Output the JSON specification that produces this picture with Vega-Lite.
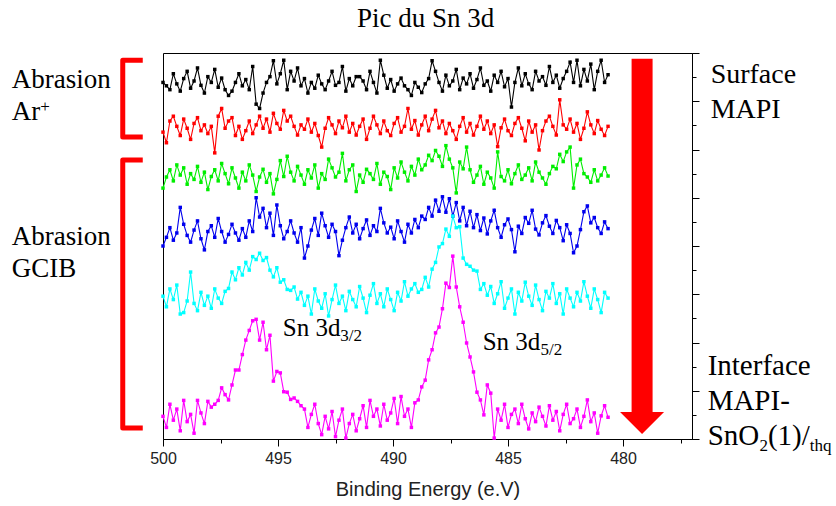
{
"$schema": "https://vega.github.io/schema/vega-lite/v6.json",
"width": 529,
"height": 386,
"autosize": {"type": "none"},
"padding": {"left": 163, "top": 53, "right": 144, "bottom": 67},
"background": "white",
"config": {"view": {"stroke": "black", "strokeWidth": 1}, "axis": {"domainColor": "black", "tickColor": "black", "grid": false, "labelFont": "Liberation Sans", "titleFont": "Liberation Sans"}},
"datasets": {
"spec": [
{"E":500,"a":7.39,"b":6.36,"c":5.20,"d":4.00,"e":2.96,"f":0.47},
{"E":499.85,"a":7.32,"b":6.14,"c":5.43,"d":4.18,"e":2.74,"f":0.24},
{"E":499.7,"a":7.24,"b":6.59,"c":5.58,"d":4.38,"e":3.11,"f":0.72},
{"E":499.55,"a":7.57,"b":6.69,"c":5.35,"d":4.12,"e":2.89,"f":0.39},
{"E":499.4,"a":7.36,"b":6.48,"c":5.68,"d":4.27,"e":3.19,"f":0.62},
{"E":499.25,"a":7.21,"b":6.29,"c":5.47,"d":4.80,"e":2.59,"f":0.17},
{"E":499.1,"a":7.47,"b":6.63,"c":5.62,"d":4.45,"e":2.62,"f":0.80},
{"E":498.95,"a":7.62,"b":6.44,"c":5.28,"d":4.22,"e":2.86,"f":0.36},
{"E":498.8,"a":7.27,"b":6.21,"c":5.50,"d":4.08,"e":3.46,"f":0.51},
{"E":498.65,"a":7.42,"b":6.54,"c":5.38,"d":4.33,"e":2.81,"f":0.12},
{"E":498.5,"a":7.69,"b":6.66,"c":5.65,"d":4.52,"e":2.66,"f":0.80},
{"E":498.35,"a":7.33,"b":6.39,"c":5.32,"d":4.15,"e":3.04,"f":0.54},
{"E":498.2,"a":7.17,"b":6.51,"c":5.53,"d":3.92,"e":2.77,"f":0.32},
{"E":498.05,"a":7.51,"b":6.33,"c":5.17,"d":4.30,"e":2.96,"f":0.78},
{"E":497.9,"a":7.39,"b":6.48,"c":5.44,"d":4.42,"e":2.71,"f":0.66},
{"E":497.75,"a":7.66,"b":5.93,"c":5.58,"d":4.18,"e":3.11,"f":0.72},
{"E":497.6,"a":7.29,"b":6.69,"c":5.35,"d":4.57,"e":2.92,"f":0.80},
{"E":497.45,"a":7.48,"b":6.85,"c":5.71,"d":4.30,"e":2.81,"f":1.06},
{"E":497.3,"a":7.24,"b":6.44,"c":5.50,"d":4.08,"e":3.06,"f":0.92},
{"E":497.15,"a":7.12,"b":6.59,"c":5.29,"d":4.24,"e":3.12,"f":0.81},
{"E":497,"a":7.21,"b":6.66,"c":5.62,"d":4.45,"e":3.46,"f":1.12},
{"E":496.85,"a":7.39,"b":6.29,"c":5.41,"d":4.27,"e":3.30,"f":1.43},
{"E":496.7,"a":7.57,"b":6.48,"c":5.20,"d":4.12,"e":3.55,"f":1.43},
{"E":496.55,"a":7.32,"b":6.21,"c":5.53,"d":4.36,"e":3.40,"f":1.75},
{"E":496.4,"a":7.45,"b":6.39,"c":5.35,"d":4.18,"e":3.66,"f":2.05},
{"E":496.25,"a":7.24,"b":6.59,"c":5.68,"d":4.52,"e":3.50,"f":2.25},
{"E":496.1,"a":7.72,"b":6.33,"c":5.47,"d":4.30,"e":3.78,"f":2.45},
{"E":495.95,"a":6.94,"b":6.51,"c":5.13,"d":5.00,"e":3.72,"f":2.48},
{"E":495.8,"a":6.85,"b":6.69,"c":5.43,"d":4.60,"e":3.85,"f":2.05},
{"E":495.65,"a":7.17,"b":6.44,"c":5.59,"d":4.78,"e":3.70,"f":2.42},
{"E":495.5,"a":7.39,"b":6.63,"c":5.32,"d":4.38,"e":3.76,"f":1.85},
{"E":495.35,"a":7.51,"b":6.36,"c":5.50,"d":4.68,"e":3.50,"f":2.15},
{"E":495.2,"a":7.84,"b":6.75,"c":5.08,"d":4.22,"e":3.36,"f":1.20},
{"E":495.05,"a":7.36,"b":6.54,"c":5.38,"d":4.85,"e":3.55,"f":1.40},
{"E":494.9,"a":7.57,"b":6.42,"c":5.77,"d":4.42,"e":3.25,"f":1.37},
{"E":494.75,"a":7.85,"b":6.81,"c":5.44,"d":4.15,"e":3.30,"f":0.98},
{"E":494.6,"a":7.24,"b":6.59,"c":5.86,"d":4.30,"e":3.10,"f":0.97},
{"E":494.45,"a":7.62,"b":6.69,"c":5.53,"d":4.52,"e":3.08,"f":0.82},
{"E":494.3,"a":7.42,"b":6.48,"c":5.35,"d":4.27,"e":3.15,"f":0.85},
{"E":494.15,"a":7.69,"b":6.30,"c":5.65,"d":4.08,"e":2.90,"f":0.78},
{"E":494,"a":7.32,"b":6.51,"c":5.47,"d":4.38,"e":3.04,"f":0.69},
{"E":493.85,"a":7.47,"b":6.42,"c":5.28,"d":3.75,"e":2.77,"f":0.62},
{"E":493.7,"a":7.17,"b":6.63,"c":5.58,"d":4.00,"e":2.96,"f":0.24},
{"E":493.55,"a":7.39,"b":6.36,"c":5.41,"d":4.33,"e":2.59,"f":0.51},
{"E":493.4,"a":7.27,"b":6.54,"c":5.68,"d":4.57,"e":3.11,"f":0.72},
{"E":493.25,"a":7.54,"b":6.29,"c":5.20,"d":4.22,"e":2.86,"f":0.32},
{"E":493.1,"a":7.36,"b":6.05,"c":5.50,"d":4.68,"e":2.71,"f":0.09},
{"E":492.95,"a":7.24,"b":6.44,"c":5.38,"d":4.42,"e":3.01,"f":0.47},
{"E":492.8,"a":7.42,"b":6.66,"c":5.80,"d":4.18,"e":2.55,"f":0.21},
{"E":492.65,"a":7.62,"b":6.51,"c":5.62,"d":4.45,"e":2.89,"f":0.57},
{"E":492.5,"a":7.33,"b":6.33,"c":5.43,"d":4.30,"e":3.19,"f":0.05},
{"E":492.35,"a":7.39,"b":6.59,"c":5.53,"d":3.80,"e":2.81,"f":0.39},
{"E":492.2,"a":7.72,"b":6.45,"c":5.92,"d":4.12,"e":2.96,"f":0.62},
{"E":492.05,"a":7.21,"b":6.69,"c":5.35,"d":4.38,"e":2.66,"f":0.02},
{"E":491.9,"a":7.47,"b":6.36,"c":5.58,"d":4.60,"e":3.06,"f":0.32},
{"E":491.75,"a":7.32,"b":6.54,"c":5.68,"d":4.27,"e":2.89,"f":0.51},
{"E":491.6,"a":7.51,"b":6.30,"c":5.13,"d":4.45,"e":2.74,"f":0.17},
{"E":491.45,"a":7.51,"b":6.48,"c":5.47,"d":4.15,"e":3.16,"f":0.42},
{"E":491.3,"a":7.42,"b":6.63,"c":5.32,"d":4.36,"e":2.92,"f":0.69},
{"E":491.15,"a":7.24,"b":6.21,"c":5.59,"d":4.54,"e":2.62,"f":0.24},
{"E":491,"a":7.62,"b":6.44,"c":5.50,"d":4.22,"e":2.98,"f":0.80},
{"E":490.85,"a":7.39,"b":6.69,"c":5.38,"d":4.42,"e":3.22,"f":0.47},
{"E":490.7,"a":7.17,"b":6.51,"c":5.71,"d":4.30,"e":2.81,"f":0.62},
{"E":490.55,"a":7.85,"b":6.33,"c":5.28,"d":4.78,"e":3.01,"f":0.27},
{"E":490.4,"a":7.54,"b":6.59,"c":5.53,"d":4.48,"e":2.74,"f":0.72},
{"E":490.25,"a":7.27,"b":6.39,"c":5.44,"d":4.27,"e":3.11,"f":0.39},
{"E":490.1,"a":7.45,"b":6.29,"c":5.17,"d":4.39,"e":2.89,"f":0.54},
{"E":489.95,"a":7.21,"b":6.54,"c":5.62,"d":4.15,"e":2.66,"f":0.84},
{"E":489.8,"a":7.36,"b":6.66,"c":5.41,"d":4.52,"e":3.04,"f":0.32},
{"E":489.65,"a":7.48,"b":6.36,"c":5.74,"d":4.30,"e":2.86,"f":0.88},
{"E":489.5,"a":7.32,"b":6.48,"c":5.53,"d":4.08,"e":3.26,"f":0.47},
{"E":489.35,"a":7.24,"b":6.85,"c":5.35,"d":4.45,"e":2.96,"f":0.62},
{"E":489.2,"a":7.12,"b":6.42,"c":5.65,"d":4.27,"e":3.11,"f":0.24},
{"E":489.05,"a":7.39,"b":6.60,"c":5.47,"d":4.55,"e":3.22,"f":0.75},
{"E":488.9,"a":7.29,"b":6.30,"c":5.80,"d":4.38,"e":3.04,"f":0.81},
{"E":488.75,"a":7.18,"b":6.51,"c":5.58,"d":4.62,"e":3.10,"f":1.08},
{"E":488.6,"a":7.36,"b":6.69,"c":5.68,"d":4.55,"e":3.35,"f":1.22},
{"E":488.45,"a":7.47,"b":6.39,"c":5.88,"d":4.80,"e":3.15,"f":1.64},
{"E":488.3,"a":7.84,"b":6.63,"c":5.77,"d":4.62,"e":3.52,"f":1.85},
{"E":488.15,"a":7.62,"b":6.81,"c":5.98,"d":4.95,"e":3.66,"f":2.20},
{"E":488,"a":7.39,"b":6.45,"c":5.86,"d":4.72,"e":3.98,"f":2.32},
{"E":487.85,"a":7.21,"b":6.59,"c":5.65,"d":5.02,"e":4.05,"f":2.70},
{"E":487.7,"a":7.54,"b":6.33,"c":6.08,"d":4.70,"e":4.35,"f":3.23},
{"E":487.55,"a":7.32,"b":6.54,"c":5.80,"d":4.98,"e":4.20,"f":3.14},
{"E":487.4,"a":7.42,"b":6.39,"c":5.62,"d":4.62,"e":4.62,"f":3.79},
{"E":487.25,"a":7.66,"b":6.21,"c":5.10,"d":4.90,"e":4.38,"f":3.15},
{"E":487.1,"a":7.24,"b":6.48,"c":5.74,"d":4.52,"e":4.40,"f":2.74},
{"E":486.95,"a":7.48,"b":6.66,"c":5.60,"d":4.80,"e":3.75,"f":2.42},
{"E":486.8,"a":7.36,"b":6.36,"c":6.05,"d":4.42,"e":3.62,"f":1.99},
{"E":486.65,"a":7.57,"b":6.54,"c":5.58,"d":4.72,"e":3.58,"f":1.70},
{"E":486.5,"a":7.27,"b":6.30,"c":5.32,"d":4.38,"e":3.50,"f":1.39},
{"E":486.35,"a":7.45,"b":6.48,"c":5.47,"d":4.65,"e":3.48,"f":0.97},
{"E":486.2,"a":7.69,"b":6.69,"c":5.65,"d":4.32,"e":3.10,"f":0.81},
{"E":486.05,"a":7.33,"b":6.42,"c":5.28,"d":4.58,"e":3.22,"f":0.50},
{"E":485.9,"a":7.42,"b":6.59,"c":5.53,"d":4.25,"e":2.98,"f":1.12},
{"E":485.75,"a":7.21,"b":6.33,"c":5.41,"d":4.52,"e":3.16,"f":0.95},
{"E":485.6,"a":7.54,"b":6.51,"c":5.20,"d":4.74,"e":2.81,"f":0.02},
{"E":485.45,"a":7.39,"b":6.06,"c":5.95,"d":4.38,"e":3.01,"f":0.62},
{"E":485.3,"a":7.62,"b":6.45,"c":5.44,"d":4.18,"e":3.26,"f":0.39},
{"E":485.15,"a":7.30,"b":6.63,"c":5.35,"d":4.44,"e":2.71,"f":0.72},
{"E":485,"a":7.47,"b":6.39,"c":5.58,"d":4.56,"e":2.92,"f":0.24},
{"E":484.85,"a":6.88,"b":6.29,"c":5.29,"d":4.34,"e":3.11,"f":0.51},
{"E":484.7,"a":7.39,"b":6.54,"c":5.50,"d":3.88,"e":2.59,"f":0.62},
{"E":484.55,"a":7.69,"b":6.66,"c":5.68,"d":4.41,"e":3.04,"f":0.32},
{"E":484.4,"a":7.32,"b":6.44,"c":5.38,"d":4.26,"e":2.86,"f":0.72},
{"E":484.25,"a":7.57,"b":6.18,"c":5.47,"d":4.59,"e":3.25,"f":0.42},
{"E":484.1,"a":7.36,"b":6.59,"c":5.62,"d":4.47,"e":2.96,"f":0.21},
{"E":483.95,"a":7.24,"b":6.36,"c":5.35,"d":4.74,"e":2.77,"f":0.54},
{"E":483.8,"a":7.62,"b":6.51,"c":5.74,"d":4.35,"e":3.19,"f":0.36},
{"E":483.65,"a":7.42,"b":5.99,"c":5.53,"d":4.23,"e":2.89,"f":0.66},
{"E":483.5,"a":7.51,"b":6.39,"c":5.41,"d":4.48,"e":2.66,"f":0.47},
{"E":483.35,"a":7.33,"b":6.59,"c":5.28,"d":4.63,"e":3.06,"f":0.27},
{"E":483.2,"a":7.72,"b":6.69,"c":5.50,"d":4.41,"e":2.92,"f":0.69},
{"E":483.05,"a":7.39,"b":6.48,"c":5.65,"d":4.26,"e":3.22,"f":0.39},
{"E":482.9,"a":7.54,"b":6.30,"c":5.60,"d":4.53,"e":2.81,"f":0.57},
{"E":482.75,"a":7.27,"b":7.03,"c":5.90,"d":4.38,"e":3.01,"f":0.17},
{"E":482.6,"a":7.47,"b":6.51,"c":5.75,"d":4.11,"e":2.59,"f":0.51},
{"E":482.45,"a":7.62,"b":6.42,"c":5.95,"d":4.44,"e":3.11,"f":0.72},
{"E":482.3,"a":7.81,"b":6.63,"c":6.05,"d":4.26,"e":2.92,"f":0.32},
{"E":482.15,"a":7.39,"b":6.36,"c":5.20,"d":3.86,"e":2.74,"f":0.42},
{"E":482,"a":7.85,"b":6.54,"c":5.68,"d":4.00,"e":3.04,"f":0.62},
{"E":481.85,"a":7.32,"b":6.21,"c":5.80,"d":4.34,"e":2.86,"f":0.24},
{"E":481.7,"a":7.66,"b":6.44,"c":5.50,"d":4.71,"e":3.26,"f":0.47},
{"E":481.55,"a":7.42,"b":6.78,"c":5.43,"d":4.83,"e":2.96,"f":0.81},
{"E":481.4,"a":7.77,"b":6.51,"c":5.32,"d":4.48,"e":2.71,"f":0.36},
{"E":481.25,"a":7.24,"b":6.33,"c":5.58,"d":4.59,"e":3.11,"f":0.54},
{"E":481.1,"a":7.62,"b":6.60,"c":5.35,"d":4.38,"e":2.89,"f":0.12},
{"E":480.95,"a":7.85,"b":6.42,"c":5.47,"d":4.26,"e":2.62,"f":0.48},
{"E":480.8,"a":7.39,"b":6.29,"c":5.62,"d":4.50,"e":3.04,"f":0.69},
{"E":480.65,"a":7.55,"b":6.48,"c":5.45,"d":4.36,"e":2.92,"f":0.45}
],
"brackets": [
{"id":"ar","o":1,"E":500.88,"v":7.85},
{"id":"ar","o":2,"E":501.75,"v":7.85},
{"id":"ar","o":3,"E":501.75,"v":6.26},
{"id":"ar","o":4,"E":500.88,"v":6.26},
{"id":"gcib","o":1,"E":500.88,"v":5.78},
{"id":"gcib","o":2,"E":501.75,"v":5.78},
{"id":"gcib","o":3,"E":501.75,"v":0.23},
{"id":"gcib","o":4,"E":500.88,"v":0.23}
],
"arrow": [{"E":479.17,"v":7.88,"v2":0.56}],
"head": [{"E":479.17,"v":0.33}],
"ttl": [{"t":"Pic du Sn 3d","E":488.58,"v":8.54}],
"labelsL": [
{"t":"Abrasion","E":506.58,"v":7.27},
{"t":"Ar","E":506.58,"v":6.61},
{"t":"Abrasion","E":506.58,"v":4.02},
{"t":"GCIB","E":506.58,"v":3.36}
],
"labelsR": [
{"t":"Surface","E":476.19,"v":7.38},
{"t":"MAPI","E":476.19,"v":6.65}
],
"labelsR2": [
{"t":"Interface","E":476.32,"v":1.33},
{"t":"MAPI-","E":476.32,"v":0.60},
{"t":"SnO","E":476.32,"v":-0.12},
{"t":"(1)/","E":473.70,"v":-0.12}
],
"sn": [
{"t":"Sn 3d","E":494.79,"v":2.13},
{"t":"Sn 3d","E":486.1,"v":1.84}
],
"subs": [
{"t":"+","E":505.34,"v":6.78},
{"t":"3/2","E":492.29,"v":2.03},
{"t":"5/2","E":483.59,"v":1.74},
{"t":"2","E":474.07,"v":-0.25},
{"t":"thq","E":471.88,"v":-0.25}
]
},
"encoding": {
"x": {"field": "E", "type": "quantitative",
 "scale": {"domain": [477, 500], "reverse": true, "nice": false, "zero": false},
 "axis": {"orient": "bottom", "values": [477.5, 480, 482.5, 485, 487.5, 490, 492.5, 495, 497.5, 500],
  "labelExpr": "datum.value % 5 === 0 ? datum.label : ''",
  "tickSize": {"condition": {"test": "datum.value % 5 === 0", "value": 7}, "value": 4},
  "labelFontSize": 16, "labelColor": "#222", "labelPadding": 4, "labelFlush": false, "labelOverlap": false,
  "title": "Binding Energy (e.V)", "titleFontSize": 20, "titleFontWeight": "normal", "titleColor": "#222", "titlePadding": 13}},
"y": {"field": "v", "type": "quantitative",
 "scale": {"domain": [0, 8], "nice": false, "zero": false},
 "axis": {"orient": "right", "values": [0,0.5,1,1.5,2,2.5,3,3.5,4,4.5,5,5.5,6,6.5,7,7.5,8],
  "labels": false, "title": null,
  "tickSize": {"condition": {"test": "datum.value % 1 === 0", "value": 7}, "value": 4}}}
},
"layer": [
{"data": {"name": "spec"},
 "transform": [{"fold": ["a","b","c","d","e","f"], "as": ["s","v"]}],
 "mark": {"type": "line", "strokeWidth": 1.1, "point": {"filled": true, "shape": "square", "size": 12}},
 "encoding": {"color": {"field": "s", "type": "nominal", "legend": null,
   "scale": {"domain": ["a","b","c","d","e","f"], "range": ["#000000","#ff0000","#00ee00","#0000ee","#00ffff","#ff00ff"]}}}},
{"data": {"name": "brackets"},
 "mark": {"type": "line", "color": "#ff0000", "strokeWidth": 5, "strokeJoin": "round", "strokeCap": "butt"},
 "encoding": {"detail": {"field": "id", "type": "nominal"}, "order": {"field": "o", "type": "quantitative"}}},
{"data": {"name": "arrow"},
 "mark": {"type": "rule", "color": "#ff0000", "strokeWidth": 21},
 "encoding": {"y2": {"field": "v2"}}},
{"data": {"name": "head"},
 "mark": {"type": "point", "shape": "M-1,-0.5L1,-0.5L0,0.5Z", "size": 1936, "filled": true, "color": "#ff0000", "opacity": 1, "strokeWidth": 0}},
{"data": {"name": "ttl"},
 "mark": {"type": "text", "font": "Liberation Serif", "fontSize": 27, "align": "center", "baseline": "alphabetic", "color": "black"},
 "encoding": {"text": {"field": "t"}}},
{"data": {"name": "labelsL"},
 "mark": {"type": "text", "font": "Liberation Serif", "fontSize": 27, "align": "left", "baseline": "alphabetic", "color": "black"},
 "encoding": {"text": {"field": "t"}}},
{"data": {"name": "labelsR"},
 "mark": {"type": "text", "font": "Liberation Serif", "fontSize": 28, "align": "left", "baseline": "alphabetic", "color": "black"},
 "encoding": {"text": {"field": "t"}}},
{"data": {"name": "labelsR2"},
 "mark": {"type": "text", "font": "Liberation Serif", "fontSize": 29, "align": "left", "baseline": "alphabetic", "color": "black"},
 "encoding": {"text": {"field": "t"}}},
{"data": {"name": "sn"},
 "mark": {"type": "text", "font": "Liberation Serif", "fontSize": 25, "align": "left", "baseline": "alphabetic", "color": "black"},
 "encoding": {"text": {"field": "t"}}},
{"data": {"name": "subs"},
 "mark": {"type": "text", "font": "Liberation Serif", "fontSize": 17, "align": "left", "baseline": "alphabetic", "color": "black"},
 "encoding": {"text": {"field": "t"}}}
]
}
